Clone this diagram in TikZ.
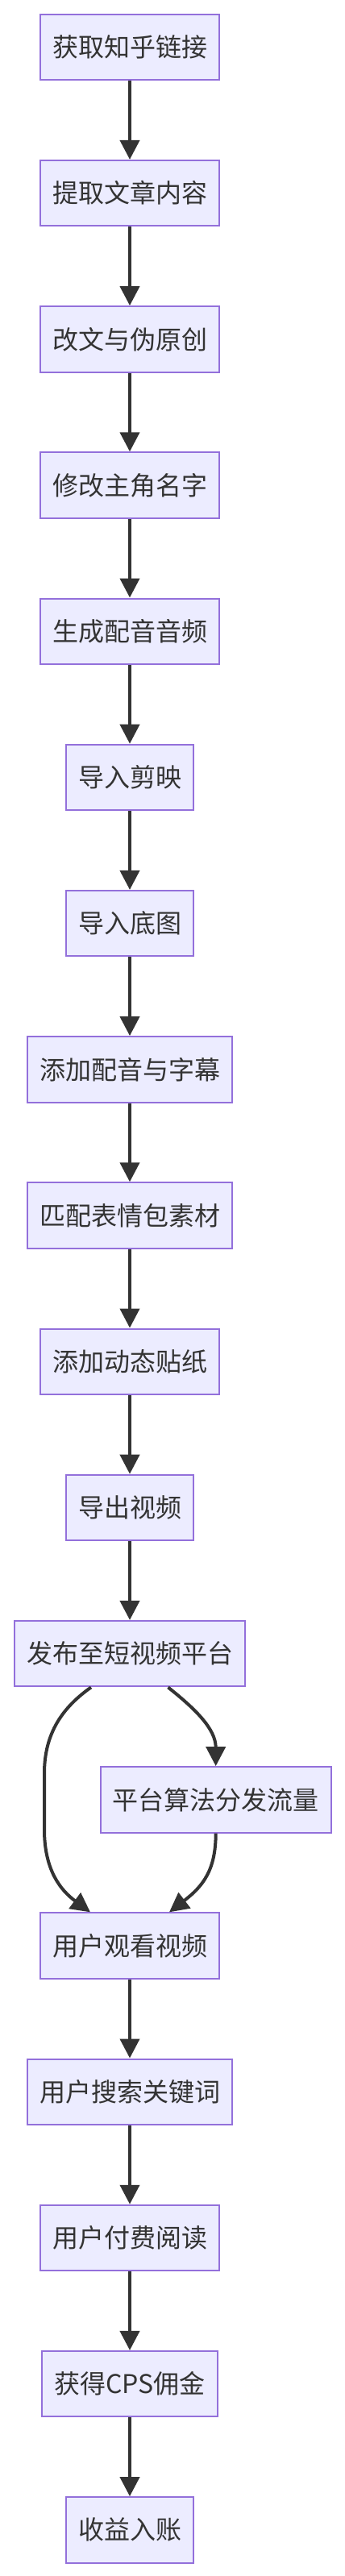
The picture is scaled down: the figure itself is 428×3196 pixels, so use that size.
\documentclass[tikz,border=0pt]{standalone}
\usepackage{fontspec}
\setmainfont{Noto Sans CJK SC}
\usetikzlibrary{arrows.meta,calc}
\definecolor{boxfill}{HTML}{ECECFF}
\definecolor{boxdraw}{HTML}{9370DB}
\definecolor{ink}{HTML}{333333}
\tikzset{
  box/.style={draw=boxdraw, fill=boxfill, line width=1.5pt, minimum height=61.1pt,
    inner xsep=11.25pt, inner ysep=0pt, text=ink, font=\fontsize{24pt}{28pt}\selectfont},
  arr/.style={draw=ink, line width=3pt, -{Triangle[length=18pt,width=18pt]}}
}
\begin{document}
\begin{tikzpicture}[x=0.75pt,y=-0.75pt]
\useasboundingbox (0,0) rectangle (428,3196);
\node[box] (n0) at (161,58.45) {获取知乎链接};
\node[box] (n1) at (161,239.65) {提取文章内容};
\node[box] (n2) at (161,420.85) {改文与伪原创};
\node[box] (n3) at (161,602.05) {修改主角名字};
\node[box] (n4) at (161,783.25) {生成配音音频};
\node[box] (n5) at (161,964.45) {导入剪映};
\node[box] (n6) at (161,1145.65) {导入底图};
\node[box] (n7) at (161,1326.85) {添加配音与字幕};
\node[box] (n8) at (161,1508.05) {匹配表情包素材};
\node[box] (n9) at (161,1689.25) {添加动态贴纸};
\node[box] (n10) at (161,1870.45) {导出视频};
\node[box] (n11) at (161,2051.65) {发布至短视频平台};
\node[box] (n12) at (267.7,2232.85) {平台算法分发流量};
\node[box] (n13) at (161,2414.05) {用户观看视频};
\node[box] (n14) at (161,2595.25) {用户搜索关键词};
\node[box] (n15) at (161,2776.45) {用户付费阅读};
\node[box] (n16) at (161,2957.65) {获得CPS佣金};
\node[box] (n17) at (161,3138.85) {收益入账};
\foreach \a/\b in {0/1,1/2,2/3,3/4,4/5,5/6,6/7,7/8,8/9,9/10,10/11,13/14,14/15,15/16,16/17}
  \draw[arr] (n\a) -- (n\b);
\draw[arr] ($(n11.south)+(-48,0)$) .. controls (78,2118) and (55,2150) .. (55,2200)
  -- (55,2270) .. controls (55,2320) and (75,2345) .. ($(n13.north)+(-49,0)$);
\draw[arr] ($(n11.south)+(47.5,0)$) .. controls (242,2120) and (267.7,2145) .. (n12.north);
\draw[arr] (n12.south) .. controls (267.7,2320) and (252,2340) .. ($(n13.north)+(49,0)$);
\end{tikzpicture}
\end{document}
